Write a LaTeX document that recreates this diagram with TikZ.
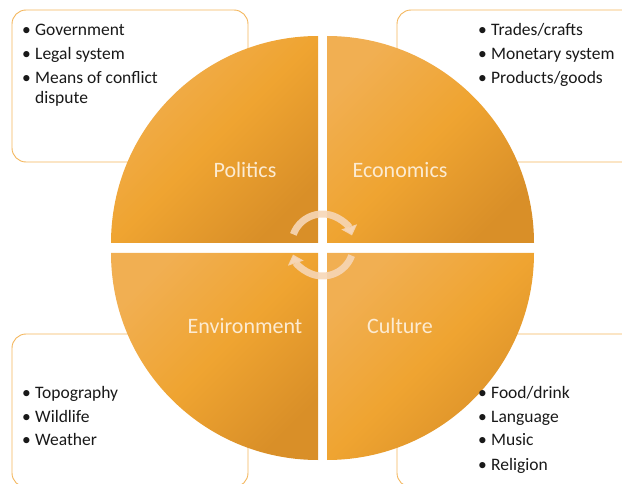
\documentclass[tikz,border=0pt]{standalone}
\usepackage{fontspec}
\setmainfont{Carlito}
\usetikzlibrary{arrows.meta}
\definecolor{pieorange}{HTML}{EFA431}
\definecolor{pielight}{HTML}{F1AF52}
\definecolor{piedark}{HTML}{D98F28}
\definecolor{boxline}{HTML}{F4B65C}
\definecolor{sectortext}{HTML}{FCEBD2}
\definecolor{cyclecol}{HTML}{F6D6B6}

\begin{document}
\begin{tikzpicture}[x=1pt, y=1pt,
  quarter/.style={top color=pielight, bottom color=piedark, middle color=pieorange, shading angle=45},
  listbox/.style={draw=boxline, line width=0.9pt, fill=white, rounded corners=14pt},
  items/.style={anchor=base west, inner sep=0pt, text=black!90, font=\fontsize{17.5}{20}\selectfont},
  sectorname/.style={text=sectortext, inner sep=0pt, font=\fontsize{22}{26}\selectfont},
  cyclearc/.style={draw=cyclecol, draw opacity=0.9, line width=7pt, -{Triangle[width=16pt,length=9pt]}}]
  \useasboundingbox (0,0) rectangle (622,483);
  \clip (0,0) rectangle (622,483);

  % boxes behind the circle
  \draw[listbox] (12,473) rectangle (248,321);
  \draw[listbox] (397,473) rectangle (645,321);
  \draw[listbox] (12,149) rectangle (248,-4);
  \draw[listbox] (397,149) rectangle (645,-4);

  % four quarters of the circle
  \shade[quarter] (318,240) -- (111,240) arc[start angle=180, end angle=90, radius=207] -- cycle;
  \shade[quarter] (327,240) -- (327,447) arc[start angle=90, end angle=0, radius=207] -- cycle;
  \shade[quarter] (318,230) -- (111,230) arc[start angle=180, end angle=270, radius=207] -- cycle;
  \shade[quarter] (327,230) -- (534,230) arc[start angle=0, end angle=-90, radius=207] -- cycle;

  \node[sectorname] (politics) at (245,313) {Politics};
  \node[sectorname] (economics) at (400,313) {Economics};
  \node[sectorname] (environment) at (245,157) {Environment};
  \node[sectorname] (culture) at (400,157) {Culture};

  % cycle arrows in the middle
  \coordinate (hub) at (322.5,238);
  \draw[cyclearc] ([shift={(160:31)}]hub) arc[start angle=160, end angle=18, radius=31];
  \draw[cyclearc] ([shift={(-20:31)}]hub) arc[start angle=-20, end angle=-162, radius=31];

  % bullet lists
  \node[items] (politicslist) at (22,447) {\begin{tabular}[t]{@{}p{13pt}@{}l@{}}
    \textbullet & Government\\[4pt]
    \textbullet & Legal system\\[4pt]
    \textbullet & Means of conflict\\
    & dispute
  \end{tabular}};
  \node[items] (economicslist) at (478,447) {\begin{tabular}[t]{@{}p{13pt}@{}l@{}}
    \textbullet & Trades/crafts\\[4pt]
    \textbullet & Monetary system\\[4pt]
    \textbullet & Products/goods
  \end{tabular}};
  \node[items] (environmentlist) at (22,85) {\begin{tabular}[t]{@{}p{13pt}@{}l@{}}
    \textbullet & Topography\\[4pt]
    \textbullet & Wildlife\\[4pt]
    \textbullet & Weather
  \end{tabular}};
  \node[items] (culturelist) at (478,85) {\begin{tabular}[t]{@{}p{13pt}@{}l@{}}
    \textbullet & Food/drink\\[4pt]
    \textbullet & Language\\[4pt]
    \textbullet & Music\\[4pt]
    \textbullet & Religion
  \end{tabular}};
\end{tikzpicture}
\end{document}
